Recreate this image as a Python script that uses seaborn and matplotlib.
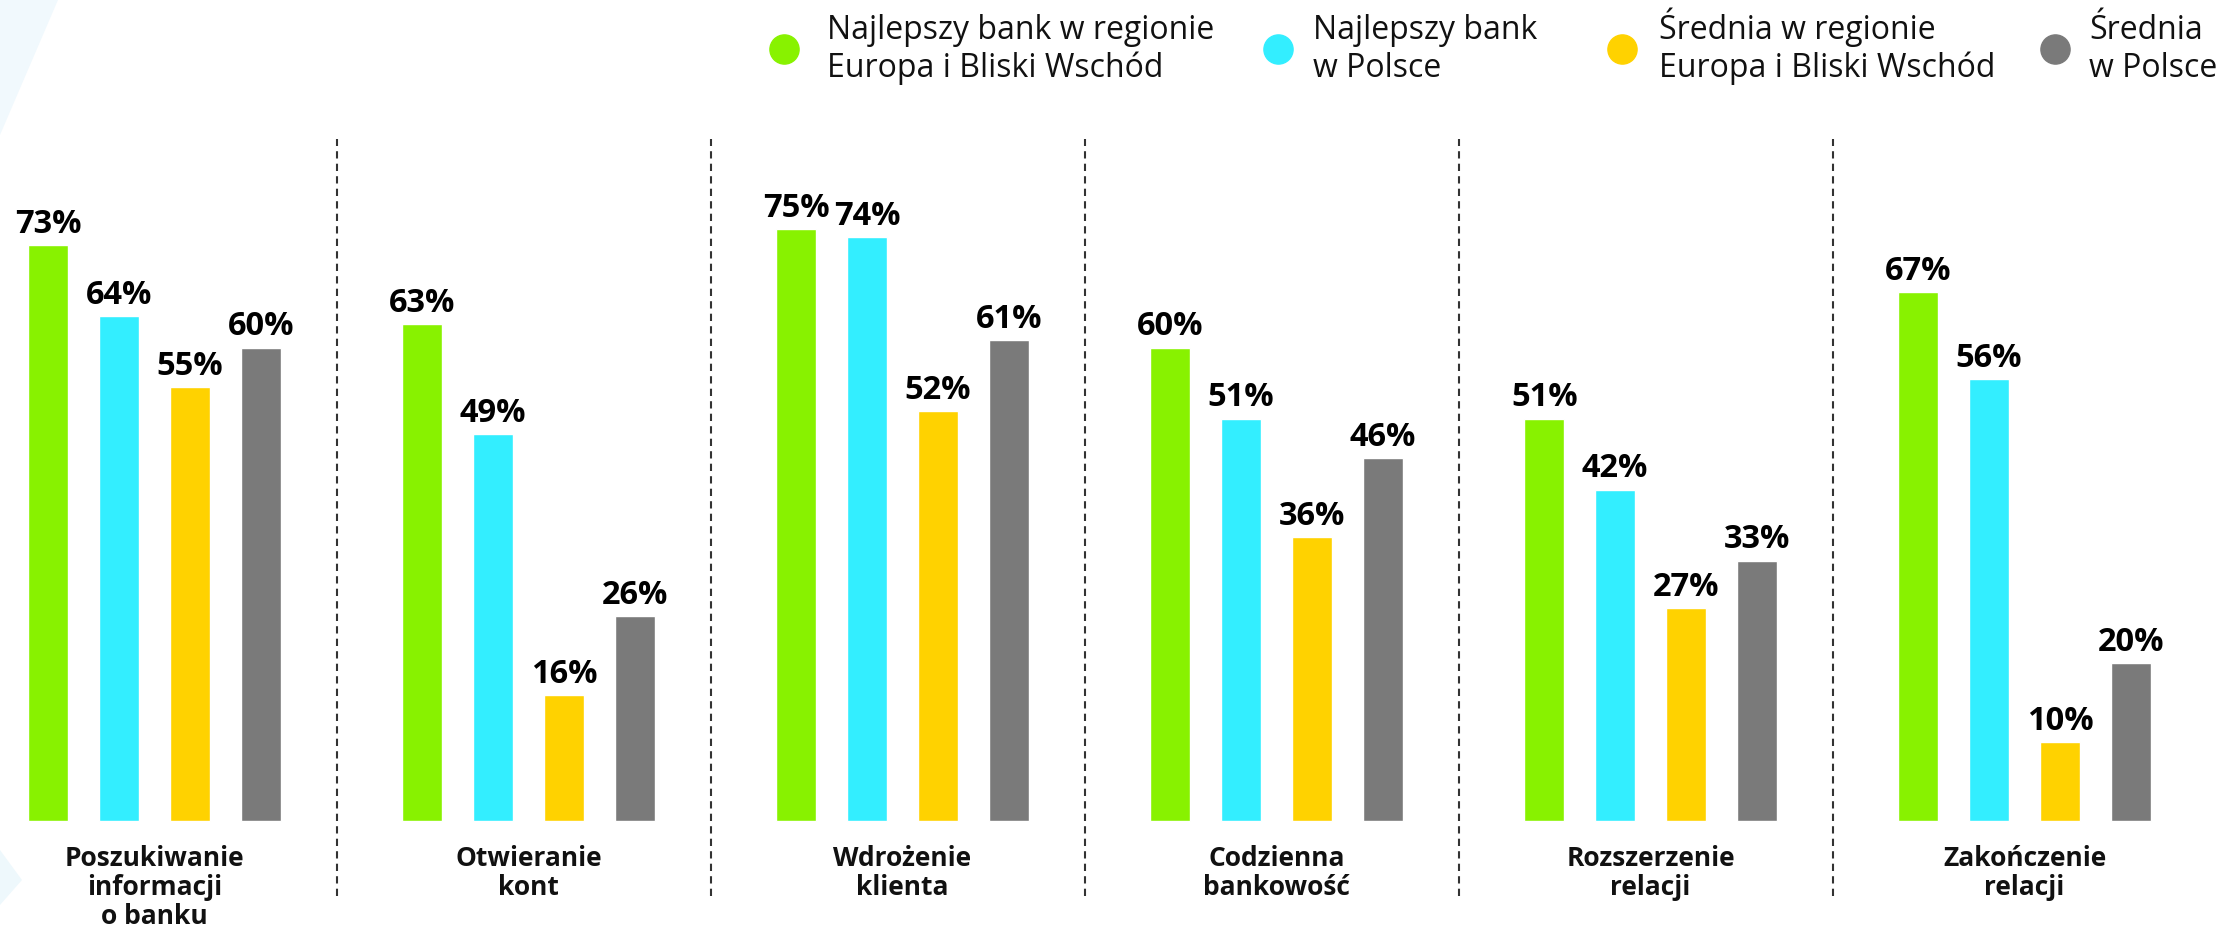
import numpy as np
import pandas as pd
import matplotlib
matplotlib.use("Agg")
import matplotlib.pyplot as plt
import seaborn as sns
from matplotlib.patches import Polygon

categories = ["Poszukiwanie\ninformacji\no banku", "Otwieranie\nkont", "Wdrożenie\nklienta",
              "Codzienna\nbankowość", "Rozszerzenie\nrelacji", "Zakończenie\nrelacji"]
series = ["Najlepszy bank w regionie\nEuropa i Bliski Wschód", "Najlepszy bank\nw Polsce",
          "Średnia w regionie\nEuropa i Bliski Wschód", "Średnia\nw Polsce"]
best_region = [73, 63, 75, 60, 51, 67]
best_poland = [64, 49, 74, 51, 42, 56]
avg_region = [55, 16, 52, 36, 27, 10]
avg_poland = [60, 26, 61, 46, 33, 20]
colors = ["#88F200", "#33EEFF", "#FFD200", "#7A7A7A"]

sns.set_style("white")
plt.rcParams["font.family"] = ["Open Sans", "DejaVu Sans"]

values = [best_region, best_poland, avg_region, avg_poland]
rows = []
for s, vals in zip(series, values):
    for c, v in zip(categories, vals):
        rows.append({"cat": c, "series": s, "val": v})
df = pd.DataFrame(rows)

W, H = 2224, 931
fig = plt.figure(figsize=(W / 100, H / 100), dpi=100)
# faint decorative background shapes
fig.patches.append(Polygon([(0, 1), (58 / W, 1), (0, 1 - 135 / H)], closed=True,
                           transform=fig.transFigure, facecolor="#f1f9fd", edgecolor="none", zorder=0))
fig.patches.append(Polygon([(0, 1 - 850 / H), (22 / W, 1 - 880 / H), (0, 1 - 905 / H)], closed=True,
                           transform=fig.transFigure, facecolor="#eef8fc", edgecolor="none", zorder=0))

ax = fig.add_axes([0, 0, 1, 1])
ax.patch.set_alpha(0)
sns.barplot(data=df, x="cat", y="val", hue="series", hue_order=series, order=categories,
            palette=colors, saturation=1, width=0.757, gap=0.435, legend=False, ax=ax)

px_per_unit = 7.89
base_px = 821
ax.set_xlim(-154.5 / 374, (W - 154.5) / 374)
ax.set_ylim(-(H - base_px) / px_per_unit, base_px / px_per_unit)
ax.axis("off")


def ydata(px):
    return (base_px - px) / px_per_unit


for cont in ax.containers:
    ax.bar_label(cont, labels=[f"{b.get_height():.0f}%" for b in cont], padding=3,
                 fontsize=23.5, fontweight="bold", color="black")

for i in range(len(categories) - 1):
    xpos = i + 0.5 - 5 / 374
    ax.plot([xpos, xpos], [ydata(896), ydata(139)],
            color="#333333", lw=1.5, ls=(0, (3.5, 2.5)), clip_on=False)

for i, c in enumerate(categories):
    for k, line in enumerate(c.split("\n")):
        ax.text(i, ydata(866.5 + 28.5 * k), line, ha="center", va="baseline",
                fontsize=19, fontweight="bold", color="#111111")

# legend (manual placement of markers and two-line labels)
marker_x = [784, 1278, 1622, 2055]
text_x = [827, 1313, 1659, 2089]
for c, s, mx, tx in zip(colors, series, marker_x, text_x):
    fig.add_artist(plt.Line2D([mx / W], [1 - 48.5 / H], marker="o", ls="", markersize=21,
                              markerfacecolor=c, markeredgecolor=c, transform=fig.transFigure))
    for k, line in enumerate(s.split("\n")):
        fig.text(tx / W, 1 - (39 + 38 * k) / H, line, ha="left", va="baseline",
                 fontsize=23, color="#111111")

fig.savefig("out.png", dpi=100)
